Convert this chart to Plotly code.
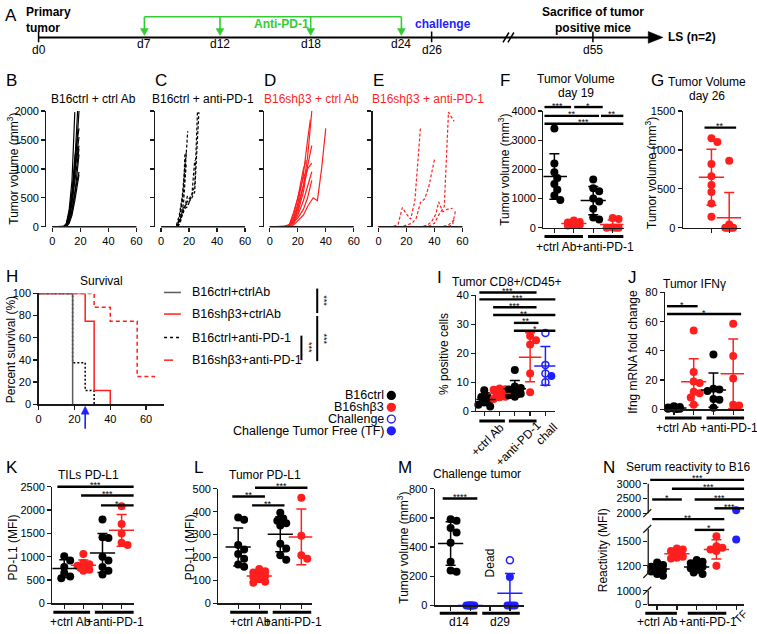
import numpy as np
import plotly.graph_objects as go

W, H = 757, 634
FONT = "Liberation Sans, Arial, Helvetica, sans-serif"
BLK = "#000000"
RED = "#ff1f1f"
BLUE = "#1f1fff"
GREEN = "#33cc33"
GRAY = "#5a5a5a"
AXC = "#1a1a1a"
LW = 1.3
TICKF = 11

# ======================= DATA =======================
# A: timeline
timeline_days = [0, 7, 12, 18, 24, 26, 55]
timeline_labels = ["d0", "d7", "d12", "d18", "d24", "d26", "d55"]
antiPD1_days = [7, 12, 18, 24]
tick_days = [0, 26, 55]
challenge_day = 26
sacrifice_day = 55

# B: B16ctrl + ctrl Ab
B_days = [[0, 8, 10, 12, 14, 16], [0, 8, 10, 12, 14, 16, 18], [0, 8, 10, 12, 14, 16, 19],
          [0, 8, 10, 12, 14, 16, 19], [0, 8, 10, 12, 14, 16, 19], [0, 8, 10, 12, 14, 16, 19],
          [0, 8, 10, 12, 14, 16, 19], [0, 8, 10, 12, 14, 16, 19], [0, 8, 10, 12, 14, 16, 19],
          [0, 8, 10, 12, 14, 16, 19]]
B_vols = [[0, 0, 60, 300, 800, 1980], [0, 0, 40, 200, 500, 1100, 2000], [0, 0, 30, 150, 450, 900, 2000],
          [0, 0, 50, 250, 600, 1000, 1400], [0, 0, 20, 120, 400, 800, 1350], [0, 0, 30, 180, 500, 1000, 1550],
          [0, 0, 20, 100, 300, 600, 950], [0, 0, 10, 80, 250, 550, 1250], [0, 0, 40, 200, 550, 1200, 1700],
          [0, 0, 0, 60, 200, 450, 900]]
# C: B16ctrl + anti-PD-1
C_days = [[11, 13, 15, 17, 19], [11, 13, 15, 17, 18], [12, 14, 16, 17], [12, 14, 16, 19, 22, 24, 26],
          [12, 14, 16, 19, 22, 24, 27], [12, 14, 16, 19, 22, 24], [11, 13, 16, 19], [12, 14, 16, 18]]
C_vols = [[0, 150, 450, 900, 1650], [30, 200, 500, 1000, 1300], [0, 250, 600, 1250],
          [0, 100, 300, 450, 550, 700, 2000], [50, 150, 350, 400, 500, 600, 1980],
          [0, 120, 300, 350, 550, 1150], [0, 100, 250, 550], [0, 150, 400, 1100]]
# D: B16shb3 + ctrl Ab
D_days = [[0, 10, 14, 17, 20, 24, 27, 30], [0, 10, 14, 17, 20, 24, 27, 29], [0, 10, 14, 17, 20, 24, 27, 30],
          [0, 10, 14, 17, 20, 24, 26], [0, 10, 14, 17, 20, 24, 27], [0, 10, 14, 17, 20, 24, 27, 30],
          [0, 10, 14, 17, 20, 24, 27, 31, 34, 37, 40], [0, 10, 14, 17, 20, 24, 27, 30], [0, 12, 16, 20, 24, 27, 30]]
D_vols = [[0, 0, 20, 100, 300, 700, 1200, 2000], [0, 0, 30, 150, 400, 900, 1500, 1850],
          [0, 0, 10, 80, 250, 600, 1050, 1400], [0, 0, 30, 200, 500, 1000, 1150],
          [0, 0, 20, 120, 350, 750, 1000], [0, 0, 10, 60, 200, 450, 700, 950],
          [0, 0, 0, 30, 100, 200, 350, 500, 450, 1000, 1700], [0, 0, 40, 250, 500, 850, 1000, 1100],
          [0, 0, 50, 150, 300, 500, 800]]
# E: B16shb3 + anti-PD-1
E_days = [[0, 10, 14, 17, 20, 23, 26, 30], [0, 17, 20, 24, 27, 30, 33, 36, 40], [0, 35, 40, 43, 47, 50, 54],
          [0, 30, 35, 38, 41, 43, 46, 49, 53], [0, 45, 50, 53, 55], [0, 55], [0, 55], [0, 45, 50, 55]]
E_vols = [[0, 0, 40, 330, 220, 130, 450, 1720], [0, 0, 30, 60, 150, 420, 480, 700, 1160],
          [0, 0, 60, 200, 350, 1980, 1820], [0, 0, 30, 90, 220, 430, 260, 300, 320],
          [0, 0, 0, 40, 280], [0, 0], [0, 0], [0, 0, 30, 140]]

# F: tumor volume day 19
F_ctrl_ctrlAb = [3400, 2200, 1900, 1700, 1500, 1300, 1100, 950]
F_sh_ctrlAb = [250, 200, 180, 150, 120, 100, 90, 80]
F_ctrl_anti = [1650, 1350, 1250, 1000, 900, 650, 350, 280]
F_sh_anti = [330, 300, 10, 0, 0, 0]
# G: tumor volume day 26
G_sh_ctrlAb = [1150, 1100, 820, 660, 550, 460, 310, 140]
G_sh_anti = [860, 40, 0, 0, 0, 0, 0]
# H: survival (time, percent)
S_ctrl_ctrlAb = ([0, 19], [100, 0])
S_sh_ctrlAb = ([0, 26, 31, 40], [100, 75, 12.5, 0])
S_ctrl_anti = ([0, 19, 26, 31], [100, 37.5, 12.5, 0])
S_sh_anti = ([0, 31, 40, 55, 65], [100, 87.5, 75, 25, 25])
# I: CD8+/CD45+
I_ctrl_ctrlAb = [7.2, 5.3, 4.8, 4.0, 3.0, 2.2, 1.6]
I_sh_ctrlAb = [7.8, 7.6, 7.4, 6.4, 5.8, 5.0, 4.8, 4.2]
I_ctrl_anti = [14.2, 8.5, 8.0, 7.5, 7.0, 6.0, 5.5, 5.0]
I_sh_anti = [26, 24.5, 23, 13, 6.5]
I_chall = [27, 16, 13, 10, 12.2]
I_chall_tf = [False, False, False, False, True]
# J: Ifng fold change
J_ctrl_ctrlAb = [2, 1.5, 1.2, 1.0, 0.8, 0.5, 0.4, 0.3, 0.2]
J_sh_ctrlAb = [54, 25.5, 19, 18, 12, 11, 8, 3]
J_ctrl_anti = [37.5, 14, 13.5, 12.5, 7, 6.5, 1]
J_sh_anti = [58.5, 36.5, 21, 3, 2.5]
# K: TILs PD-L1
K_ctrl_ctrlAb = [1010, 920, 780, 650, 580, 540]
K_sh_ctrlAb = [1060, 870, 840, 810, 790, 760, 720, 700]
K_ctrl_anti = [1800, 1420, 1400, 1000, 920, 780, 700, 620]
K_sh_anti = [2080, 1700, 1500, 1300, 1250]
# L: tumor PD-L1
L_ctrl_ctrlAb = [375, 365, 255, 235, 215, 195, 170, 160]
L_sh_ctrlAb = [150, 140, 135, 130, 120, 115, 105, 95, 90]
L_ctrl_anti = [395, 370, 360, 350, 340, 260, 240, 210, 190]
L_sh_anti = [460, 295, 210, 195]
# M: challenge tumor
M_d14_ctrl = [590, 580, 530, 500, 430, 300, 240, 230]
M_d14_chall = [0, 0, 0, 0, 0, 0, 0]
M_d29_chall = [310, 195, 0, 0, 0, 0]
M_d29_tf = [False, True, True, True, True, True]
# N: serum reactivity (broken axis)
N_ctrl_ctrlAb = [1240, 1210, 1190, 1170, 1150, 1130, 1100, 1090]
N_sh_ctrlAb = [1410, 1400, 1380, 1350, 1330, 1310, 1300, 1290]
N_ctrl_anti = [1270, 1250, 1230, 1200, 1190, 1170, 1150, 1120, 1100]
N_sh_anti = [1560, 1440, 1420, 1400, 1380, 1200]
N_TF = [2100, 1520]
N_break_vals = [0, 1000, 1100, 1650, 2000, 3000]
N_break_disp = [0, 14, 31, 77, 93, 123]
N_ticks = [0, 1000, 1200, 1500, 2000, 2500, 3000]

# ======================= HELPERS =======================
fig = go.Figure()
shapes, annos = [], []
layout = dict(width=W, height=H, margin=dict(l=0, r=0, t=0, b=0, pad=0),
              paper_bgcolor="white", plot_bgcolor="rgba(0,0,0,0)",
              showlegend=False, hovermode=False,
              font=dict(family=FONT, size=12, color=BLK))


def PX(x):
    return x / W


def PY(y):
    return 1 - y / H


def seg(x0, y0, x1, y1, color=BLK, w=LW, dash=None):
    line = dict(color=color, width=w)
    if dash:
        line["dash"] = dash
    shapes.append(dict(type="line", xref="paper", yref="paper", x0=PX(x0), y0=PY(y0),
                       x1=PX(x1), y1=PY(y1), line=line, layer="above"))


def poly(pts, color):
    path = "M " + " L ".join(f"{PX(x):.5f},{PY(y):.5f}" for x, y in pts) + " Z"
    shapes.append(dict(type="path", xref="paper", yref="paper", path=path, fillcolor=color,
                       line=dict(color=color, width=0.5), layer="above"))


def circ(cx, cy, r, color, filled=True):
    shapes.append(dict(type="circle", xref="paper", yref="paper", x0=PX(cx - r), x1=PX(cx + r),
                       y0=PY(cy + r), y1=PY(cy - r), fillcolor=color if filled else "white",
                       line=dict(color=color, width=1.4), layer="above"))


def txt(x, y, s, size=12, color=BLK, xa="center", ya="middle", angle=0, align="center"):
    annos.append(dict(x=PX(x), y=PY(y), xref="paper", yref="paper", text=s, showarrow=False,
                      font=dict(size=size, color=color, family=FONT), xanchor=xa, yanchor=ya,
                      textangle=angle, align=align, borderpad=0))


class Panel:
    def __init__(self, i, xl, xr, yt, yb, xrange, yrange):
        self.i = i
        self.xl, self.xr, self.yt, self.yb = xl, xr, yt, yb
        self.xrange, self.yrange = xrange, yrange
        suf = "" if i == 1 else str(i)
        self.xa, self.ya = "x" + suf, "y" + suf
        self.xkey, self.ykey = "xaxis" + suf, "yaxis" + suf
        self.sx = (xr - xl) / (xrange[1] - xrange[0])
        self.sy = (yb - yt) / (yrange[1] - yrange[0])

    def X(self, v):
        return self.xl + (v - self.xrange[0]) * self.sx

    def Y(self, v):
        return self.yb - (v - self.yrange[0]) * self.sy


def setup(p, xticks, yticks, xtext=None, ytext=None, show_xlab=True, show_ylab=True, xline=True, yline=True):
    base = dict(showgrid=False, zeroline=False, linecolor=AXC, linewidth=LW, ticks="outside", ticklen=4,
                tickwidth=LW, tickcolor=AXC, tickfont=dict(size=TICKF, family=FONT, color=BLK),
                fixedrange=True, tickmode="array")
    xa = dict(base, domain=[PX(p.xl), PX(p.xr)], range=p.xrange, anchor=p.ya, tickvals=xticks,
              showticklabels=show_xlab, showline=xline)
    if xtext is not None:
        xa["ticktext"] = xtext
    ya = dict(base, domain=[PY(p.yb), PY(p.yt)], range=p.yrange, anchor=p.xa, tickvals=yticks,
              showticklabels=show_ylab, showline=yline)
    if ytext is not None:
        ya["ticktext"] = ytext
    layout[p.xkey] = xa
    layout[p.ykey] = ya


def ident(v):
    return v


def swarm(ypx, d, maxoff):
    n = len(ypx)
    order = np.argsort(-np.asarray(ypx))
    offs = np.zeros(n)
    placed = []
    cands = [0.0]
    k = 1
    while k * d / 2 <= maxoff + 1e-9:
        cands += [k * d / 2, -k * d / 2]
        k += 1
    for i in order:
        best, bestc, bestscore = None, 0.0, -1.0
        for c in cands:
            md = min([np.hypot(c - ox, ypx[i] - oy) for ox, oy in placed] or [1e9])
            if md >= d * 0.999:
                best = c
                break
            if md > bestscore:
                bestscore, bestc = md, c
        if best is None:
            best = bestc
        offs[i] = best
        placed.append((best, ypx[i]))
    return offs


def dots(p, idx, vals, color, hollow=None, d=6.0, maxoff=8.0, T=ident, size=8):
    vals = np.asarray(vals, float)
    disp = np.array([T(v) for v in vals])
    offs = swarm(disp * p.sy, d, maxoff) / p.sx
    hollow = hollow or [False] * len(vals)
    fi = [k for k in range(len(vals)) if not hollow[k]]
    oi = [k for k in range(len(vals)) if hollow[k]]
    if fi:
        fig.add_trace(go.Scatter(x=[idx + offs[k] for k in fi], y=[disp[k] for k in fi], mode="markers",
                                 marker=dict(symbol="circle", size=size, color=color, line=dict(width=0)),
                                 xaxis=p.xa, yaxis=p.ya, cliponaxis=False))
    if oi:
        fig.add_trace(go.Scatter(x=[idx + offs[k] for k in oi], y=[disp[k] for k in oi], mode="markers",
                                 marker=dict(symbol="circle-open", size=size - 1, color=color,
                                             line=dict(width=1.5, color=color)),
                                 xaxis=p.xa, yaxis=p.ya, cliponaxis=False))


def stats(p, idx, vals, color, T=ident, mw=18):
    m = float(np.mean(vals))
    s = float(np.std(vals, ddof=1))
    fig.add_trace(go.Scatter(x=[idx], y=[T(m)], mode="markers",
                             marker=dict(symbol="line-ew", size=mw, color=color, line=dict(width=1.5, color=color)),
                             error_y=dict(type="data", symmetric=False, array=[T(m + s) - T(m)],
                                          arrayminus=[T(m) - T(m - s)], color=color, thickness=1.5, width=5),
                             xaxis=p.xa, yaxis=p.ya, cliponaxis=True))


def sig(p, a, b, ypx, stars, w=2.4, fs=9):
    seg(p.X(a), ypx, p.X(b), ypx, w=w)
    txt((p.X(a) + p.X(b)) / 2, ypx - 1.5, stars, size=fs)


def gbar(p, a, b, ypx, w=3):
    seg(p.X(a), ypx, p.X(b), ypx, w=w)


def letter(x, y, s):
    txt(x, y, s, size=17, xa="left")


def ylab(x, y, s, size=12):
    txt(x, y, s, size=size, angle=-90)


# ======================= A: TIMELINE =======================
def day_px(d):
    return 36 + 15.3 * d if d <= challenge_day else 434 + (d - challenge_day) * 163 / 29


letter(1, 10, "A")
txt(22, 14, "<b>Primary<br>tumor</b>", size=12, xa="left", align="left")
seg(day_px(0), 32, 655, 32, w=2)
poly([(653, 26), (668, 32), (653, 38)], BLK)
seg(506, 37, 512, 27, w=1.5)
seg(511, 37, 517, 27, w=1.5)
for d in tick_days:
    seg(day_px(d), 26, day_px(d), 37, w=1.5)
for d, lab in zip(timeline_days, timeline_labels):
    txt(day_px(d), 39 if d in antiPD1_days else 45, lab, size=12)
seg(day_px(antiPD1_days[0]), 11, day_px(antiPD1_days[-1]), 11, color=GREEN, w=1.6)
for d in antiPD1_days:
    x = day_px(d)
    seg(x, 11, x, 24, color=GREEN, w=1.6)
    poly([(x - 4, 23), (x + 4, 23), (x, 30)], GREEN)
txt(282, 18, "<b>Anti-PD-1</b>", size=12, color=GREEN)
txt(day_px(challenge_day) + 12, 18, "<b>challenge</b>", size=12, color=BLUE)
txt(day_px(sacrifice_day), 14, "<b>Sacrifice of tumor<br>positive mice</b>", size=12)
txt(672, 32, "<b>LS (n=2)</b>", size=12, xa="left")

# ======================= B-E: GROWTH =======================
growth_sets = [
    ("B", B_days, B_vols, BLK, None, "B16ctrl + ctrl Ab", BLK),
    ("C", C_days, C_vols, BLK, "3px,2px", "B16ctrl + anti-PD-1", BLK),
    ("D", D_days, D_vols, RED, None, "B16shβ3 + ctrl Ab", RED),
    ("E", E_days, E_vols, RED, "3px,2px", "B16shβ3 + anti-PD-1", RED),
]
title_cx = [92, 202, 312, 430]
letter_x = [2, 153, 263, 373]
for k, (lab, dd, vv, col, dash, title, tcol) in enumerate(growth_sets):
    off = 110 * k
    p = Panel(1 + k, 44 + off, 135 + off, 107, 225, [-4.24, 60], [0, 2000])
    setup(p, [0, 20, 40, 60], [0, 500, 1000, 1500, 2000], show_ylab=(k == 0), xline=False)
    seg(p.X(0), p.yb, p.X(60), p.yb, color=AXC, w=LW)
    for d, v in zip(dd, vv):
        ln = dict(color=col, width=1.2)
        if dash:
            ln["dash"] = dash
        fig.add_trace(go.Scatter(x=d, y=v, mode="lines", line=ln, xaxis=p.xa, yaxis=p.ya, cliponaxis=False))
    letter(letter_x[k], 76, lab)
    txt(title_cx[k], 95, title, size=12, color=tcol)
ylab(10, 166, "Tumor volume (mm<sup>3</sup>)")

# ======================= F =======================
pF = Panel(5, 547, 628, 107, 226, [-0.56, 3.56], [0, 4000])
setup(pF, [0, 1, 2, 3], [0, 1000, 2000, 3000, 4000], show_xlab=False)
F_groups = [(F_ctrl_ctrlAb, BLK), (F_sh_ctrlAb, RED), (F_ctrl_anti, BLK), (F_sh_anti, RED)]
for i, (vals, col) in enumerate(F_groups):
    dots(pF, i, vals, col)
for i, (vals, col) in enumerate(F_groups):
    stats(pF, i, vals, col)
letter(502, 76, "F")
txt(580, 74, "Tumor Volume", size=12)
txt(580, 89, "day 19", size=12)
ylab(507, 167, "Tumor volume (mm<sup>3</sup>)")
sig(pF, -0.51, 0.86, 103, "***")
sig(pF, 1.02, 2.49, 103, "*")
sig(pF, -0.51, 2.3, 112, "**")
sig(pF, 2.4, 3.55, 112, "**")
sig(pF, -0.51, 3.55, 120, "***")
gbar(pF, -0.51, 1.47, 235)
gbar(pF, 1.73, 3.55, 235)
txt(560, 246, "+ctrl Ab", size=12)
txt(609, 246, "+anti-PD-1", size=12)

# ======================= G =======================
pG = Panel(6, 688, 747, 107, 226, [-1.61, 1.67], [0, 1500])
setup(pG, [0, 1], [0, 500, 1000, 1500], show_xlab=False)
dots(pG, 0, G_sh_ctrlAb, RED)
dots(pG, 1, G_sh_anti, RED, d=4, maxoff=5)
stats(pG, 0, G_sh_ctrlAb, RED)
stats(pG, 1, G_sh_anti, RED)
letter(655, 76, "G")
txt(712, 77, "Tumor Volume", size=12)
txt(712, 92, "day 26", size=12)
ylab(656, 170, "Tumor volume (mm<sup>3</sup>)")
sig(pG, -0.39, 1.39, 124, "**")

# ======================= H: SURVIVAL =======================
pH = Panel(7, 36, 163, 293, 406, [0, 70], [0, 100])
setup(pH, [0, 20, 40, 60], [0, 20, 40, 60, 80, 100])
surv = [(S_sh_anti, RED, "4px,3px", "B16shβ3+anti-PD-1"),
        (S_ctrl_anti, BLK, "2px,2px", "B16ctrl+anti-PD-1"),
        (S_sh_ctrlAb, RED, None, "B16shβ3+ctrlAb"),
        (S_ctrl_ctrlAb, GRAY, None, "B16ctrl+ctrlAb")]
for (t, s), col, dash, name in surv:
    ln = dict(color=col, width=1.5, shape="hv")
    if dash:
        ln["dash"] = dash
    fig.add_trace(go.Scatter(x=t, y=s, mode="lines", line=ln, xaxis=pH.xa, yaxis=pH.ya, cliponaxis=False))
letter(2, 276, "H")
txt(100, 280, "Survival", size=12)
ylab(8, 350, "Percent survival (%)")
ax_ = pH.X(challenge_day)
seg(ax_, 431, ax_, 415, color=BLUE, w=1.6)
poly([(ax_ - 4, 416), (ax_ + 4, 416), (ax_, 408)], BLUE)
leg_y = [292, 314, 338, 361]
leg = [("B16ctrl+ctrlAb", GRAY, None), ("B16shβ3+ctrlAb", RED, None),
       ("B16ctrl+anti-PD-1", BLK, "dot"), ("B16shβ3+anti-PD-1", RED, "dash")]
for y, (name, col, dash) in zip(leg_y, leg):
    seg(163, y, 180, y, color=col, w=1.5, dash=dash)
    txt(190, y, name, size=12.5, xa="left")
seg(318, 288, 318, 313, w=2)
txt(325, 300, "***", size=9, angle=90)
seg(318, 316, 318, 362, w=2)
txt(325, 339, "***", size=9, angle=90)
seg(302, 336, 302, 361, w=2)
txt(309, 348, "***", size=9, angle=90)
dleg = [("B16ctrl", BLK, True), ("B16shβ3", RED, True), ("Challenge", BLUE, False),
        ("Challenge Tumor Free (TF)", BLUE, True)]
for y, (name, col, filled) in zip([397, 409, 421, 433], dleg):
    txt(387, y, name, size=12.5, xa="right")
    circ(393, y, 4, col, filled)

# ======================= I =======================
pI = Panel(8, 479, 559, 295, 413, [-0.52, 4.65], [0, 40])
setup(pI, [0, 1, 2, 3, 4], [0, 10, 20, 30, 40], show_xlab=False)
I_groups = [(I_ctrl_ctrlAb, BLK, None), (I_sh_ctrlAb, RED, None), (I_ctrl_anti, BLK, None),
            (I_sh_anti, RED, None), (I_chall, BLUE, [not t for t in I_chall_tf])]
for i, (vals, col, hol) in enumerate(I_groups):
    dots(pI, i, vals, col, hollow=hol, maxoff=6)
for i, (vals, col, hol) in enumerate(I_groups):
    stats(pI, i, vals, col, mw=16)
letter(438, 277, "I")
txt(510, 281, "Tumor CD8+/CD45+", size=12)
ylab(447, 355, "% positive cells")
sig(pI, -0.32, 3.42, 292, "***")
sig(pI, -0.32, 4.65, 299, "***")
sig(pI, 0.58, 3.42, 307, "***")
sig(pI, 0.58, 4.65, 315, "**")
sig(pI, 1.94, 3.55, 323, "**")
sig(pI, 1.94, 4.65, 331, "*")
gbar(pI, -0.32, 1.35, 423)
gbar(pI, 1.61, 3.42, 423)
txt(490, 442, "+ctrl Ab", size=12, angle=-45)
txt(521, 446, "+anti-PD-1", size=12, angle=-45)
txt(550, 436, "chall", size=12, angle=-45)

# ======================= J =======================
pJ = Panel(9, 670, 750, 292, 411, [-0.45, 3.55], [0, 80])
setup(pJ, [0, 1, 2, 3], [0, 20, 40, 60, 80], show_xlab=False)
J_groups = [(J_ctrl_ctrlAb, BLK), (J_sh_ctrlAb, RED), (J_ctrl_anti, BLK), (J_sh_anti, RED)]
for i, (vals, col) in enumerate(J_groups):
    dots(pJ, i, vals, col)
for i, (vals, col) in enumerate(J_groups):
    stats(pJ, i, vals, col)
letter(632, 277, "J")
txt(700, 283, "Tumor IFNγ", size=12)
ylab(638, 352, "Ifng mRNA fold change")
sig(pJ, -0.35, 1.2, 306, "*")
sig(pJ, -0.35, 3.4, 314, "*")
gbar(pJ, -0.45, 1.4, 420)
gbar(pJ, 1.65, 3.55, 420)
txt(682, 430, "+ctrl Ab", size=12)
txt(735, 430, "+anti-PD-1", size=12)

# ======================= K =======================
pK = Panel(10, 50, 133, 490, 609, [-0.62, 3.67], [0, 2500])
setup(pK, [0, 1, 2, 3], [0, 500, 1000, 1500, 2000, 2500], show_xlab=False)
K_groups = [(K_ctrl_ctrlAb, BLK), (K_sh_ctrlAb, RED), (K_ctrl_anti, BLK), (K_sh_anti, RED)]
for i, (vals, col) in enumerate(K_groups):
    dots(pK, i, vals, col)
for i, (vals, col) in enumerate(K_groups):
    stats(pK, i, vals, col)
letter(2, 470, "K")
txt(87, 478, "TILs PD-L1", size=12)
ylab(10, 552, "PD-L1 (MFI)")
sig(pK, -0.36, 3.63, 490, "***")
sig(pK, 0.88, 3.63, 499, "***")
sig(pK, 1.92, 3.63, 509, "*")
gbar(pK, -0.57, 1.35, 618)
gbar(pK, 1.6, 3.63, 618)
txt(68, 628, "+ctrl Ab", size=12)
txt(113, 628, "+anti-PD-1", size=12)

# ======================= L =======================
pL = Panel(11, 218, 313, 492, 609, [-0.94, 3.52], [0, 500])
setup(pL, [0, 1, 2, 3], [0, 100, 200, 300, 400, 500], show_xlab=False)
L_groups = [(L_ctrl_ctrlAb, BLK), (L_sh_ctrlAb, RED), (L_ctrl_anti, BLK), (L_sh_anti, RED)]
for i, (vals, col) in enumerate(L_groups):
    dots(pL, i, vals, col)
for i, (vals, col) in enumerate(L_groups):
    stats(pL, i, vals, col)
letter(192, 470, "L")
txt(265, 478, "Tumor PD-L1", size=12)
ylab(189, 552, "PD-L1 (MFI)")
sig(pL, 0.8, 3.29, 491, "***")
sig(pL, -0.28, 1.27, 500, "**")
sig(pL, 0.66, 2.2, 509, "**")
gbar(pL, -0.38, 1.41, 618)
gbar(pL, 1.64, 3.47, 618)
txt(250, 628, "+ctrl Ab", size=12)
txt(293, 628, "+anti-PD-1", size=12)

# ======================= M =======================
pM = Panel(12, 437, 527, 492, 611, [-0.8, 3.7], [0, 800])
setup(pM, [0, 1, 2, 3], [0, 200, 400, 600, 800], show_xlab=False)
dots(pM, 0, M_d14_ctrl, BLK)
dots(pM, 1, M_d14_chall, BLUE, d=2.0, maxoff=5)
dots(pM, 3, M_d29_chall, BLUE, hollow=[not t for t in M_d29_tf], d=2.5, maxoff=6)
stats(pM, 0, M_d14_ctrl, BLK)
stats(pM, 1, M_d14_chall, BLUE)
stats(pM, 3, M_d29_chall, BLUE)
letter(399, 470, "M")
txt(480, 477, "Challenge tumor", size=12)
ylab(404, 552, "Tumor volume (mm<sup>3</sup>)")
txt(pM.X(2), 568, "Dead", size=12, angle=-90)
sig(pM, -0.4, 1.35, 502, "****")
gbar(pM, -0.55, 1.35, 619)
gbar(pM, 1.6, 3.5, 619)
txt(461, 628, "d14", size=12)
txt(503, 628, "d29", size=12)


# ======================= N (broken axis) =======================
def TN(v):
    return float(np.interp(v, N_break_vals, N_break_disp))


pN = Panel(13, 653, 750, 487, 610, [-0.45, 4.4], [0, 123])
setup(pN, [0, 1, 2, 3, 4], [TN(v) for v in N_ticks], ytext=[str(v) for v in N_ticks],
      show_xlab=False, yline=False)
N_groups = [(N_ctrl_ctrlAb, BLK), (N_sh_ctrlAb, RED), (N_ctrl_anti, BLK), (N_sh_anti, RED)]
for i, (vals, col) in enumerate(N_groups):
    dots(pN, i, vals, col, T=TN)
dots(pN, 4, N_TF, BLUE, T=TN)
for i, (vals, col) in enumerate(N_groups):
    stats(pN, i, vals, col, T=TN)
for lo, hi in [(0, 1000), (1100, 1650), (2000, 3000)]:
    seg(pN.xl, pN.Y(TN(lo)), pN.xl, pN.Y(TN(hi)), color=AXC, w=LW)
for v in [1000, 1100, 1650, 2000]:
    yy = pN.Y(TN(v))
    seg(pN.xl - 5, yy + 4, pN.xl + 3, yy - 4, color=AXC, w=LW)
letter(606, 470, "N")
txt(693, 470, "Serum reactivity to B16", size=12)
ylab(608, 555, "Reactivity (MFI)")
sig(pN, -0.35, 4.4, 483, "***")
sig(pN, 0.75, 4.4, 492, "***")
sig(pN, -0.25, 1.25, 503, "*")
sig(pN, 1.9, 4.4, 503, "***")
sig(pN, 2.9, 4.4, 512, "***")
sig(pN, -0.25, 3.4, 523, "**")
sig(pN, 1.9, 3.4, 534, "*")
gbar(pN, -0.6, 1.0, 619)
gbar(pN, 1.55, 3.5, 619)
txt(662, 628, "+ctrl Ab", size=12)
txt(713, 628, "+anti-PD-1", size=12)
txt(747, 622, "TF", size=11, angle=-45)

layout["shapes"] = shapes
layout["annotations"] = annos
fig.update_layout(**layout)
fig.write_html("out.html", config={"displayModeBar": False, "staticPlot": True},
               post_script="document.body.style.margin='0';document.body.style.overflow='hidden';")
